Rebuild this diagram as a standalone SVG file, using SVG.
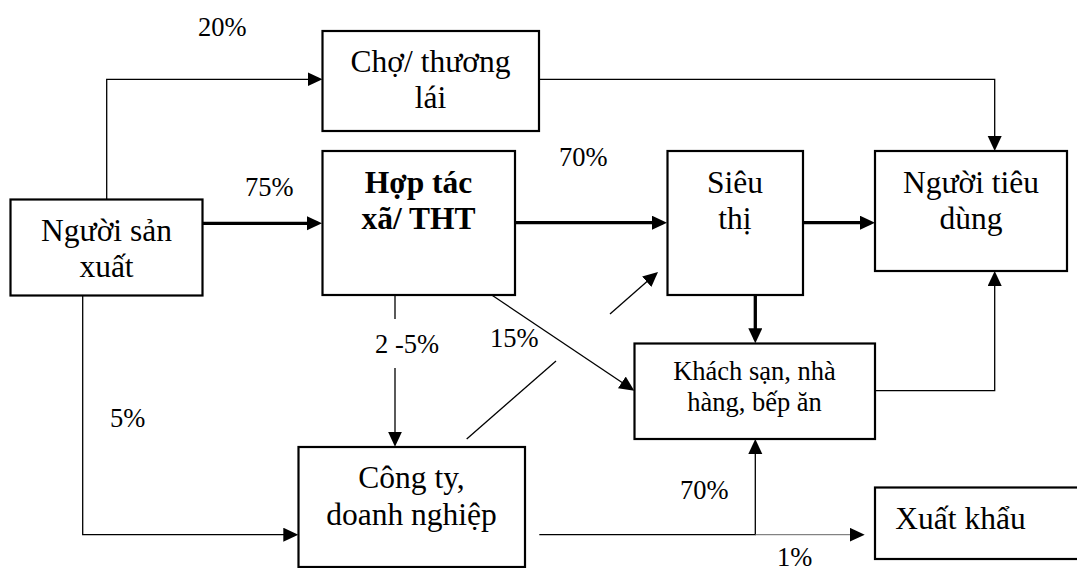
<svg xmlns="http://www.w3.org/2000/svg" width="1077" height="568" viewBox="0 0 1077 568">
  <style>
    .box { fill: #fff; stroke: #000; stroke-width: 2.2; }
    text { font-family: "Liberation Serif", "Times New Roman", serif; fill: #000; }
    .node { font-size: 31.5px; text-anchor: middle; }
    .node-b { font-weight: 700; }
    .node-s { font-size: 26.5px; }
    .node-l { text-anchor: start; }
    .lbl { font-size: 26.5px; }
    .thin { fill: none; stroke: #000; stroke-width: 1.3; }
    .thick { fill: none; stroke: #000; stroke-width: 3.3; }
    .faint { fill: none; stroke: #666; stroke-width: 1; }
  </style>
  <defs>
    <marker id="ah" markerUnits="userSpaceOnUse" markerWidth="16" markerHeight="16" refX="11" refY="7" orient="auto">
      <path d="M0,0 L15,7 L0,14 Z" fill="#000"/>
    </marker>
  </defs>
  <rect width="1077" height="568" fill="#fff"/>

  <!-- connectors -->
  <g id="connectors">
    <path class="thin" d="M106.7,199.5 V79.3 H318.5" marker-end="url(#ah)"/>
    <path class="thick" d="M202.5,223.3 H318" marker-end="url(#ah)"/>
    <path class="thin" d="M539,79.3 H994.7 V147" marker-end="url(#ah)"/>
    <path class="thick" d="M515,222.7 H663" marker-end="url(#ah)"/>
    <path class="thick" d="M803,222.7 H871" marker-end="url(#ah)"/>
    <path class="thick" d="M755.3,295 V339.3" marker-end="url(#ah)"/>
    <path class="thin" d="M875,390.7 H994.7 V275" marker-end="url(#ah)"/>
    <path class="thin" d="M395,295 V319"/>
    <path class="thin" d="M395,368 V442.7" marker-end="url(#ah)"/>
    <path class="thin" d="M491.7,295 L631,388.5" marker-end="url(#ah)"/>
    <path class="thin" d="M82.7,295 V534.7 H294.3" marker-end="url(#ah)"/>
    <path class="thin" d="M466.7,439 L556,361"/>
    <path class="thin" d="M610,314 L655,274.6" marker-end="url(#ah)"/>
    <path class="thin" d="M539.3,534.7 H755.3 V443" marker-end="url(#ah)"/>
    <path class="faint" d="M755.3,534.7 H860.7" marker-end="url(#ah)"/>
  </g>

  <!-- flow shares -->
  <g id="labels">
    <text class="lbl" x="198" y="36">20%</text>
    <text class="lbl" x="245" y="196">75%</text>
    <text class="lbl" x="559" y="165.7">70%</text>
    <text class="lbl" x="375" y="353.3">2 -5%</text>
    <text class="lbl" x="490" y="347.3">15%</text>
    <text class="lbl" x="110" y="426.7">5%</text>
    <text class="lbl" x="680" y="499">70%</text>
    <text class="lbl" x="777" y="566">1%</text>
  </g>

  <g id="producer">
    <rect class="box" x="10.5" y="199.5" width="192" height="96"/>
    <text class="node" x="106.5" y="240.7">Người sản</text>
    <text class="node" x="106.5" y="276.7">xuất</text>
  </g>
  <g id="market">
    <rect class="box" x="322.5" y="31" width="216.5" height="100"/>
    <text class="node" x="430.5" y="71.7">Chợ/ thương</text>
    <text class="node" x="430.5" y="108.3">lái</text>
  </g>
  <g id="coop">
    <rect class="box" x="322.5" y="151" width="192.5" height="144"/>
    <text class="node node-b" x="418.5" y="192.7">Hợp tác</text>
    <text class="node node-b" x="418.5" y="229">xã/ THT</text>
  </g>
  <g id="supermarket">
    <rect class="box" x="667.5" y="151" width="135.5" height="144"/>
    <text class="node" x="735" y="192.7">Siêu</text>
    <text class="node" x="735" y="229">thị</text>
  </g>
  <g id="consumer">
    <rect class="box" x="875" y="151" width="192" height="120"/>
    <text class="node" x="971" y="192.7">Người tiêu</text>
    <text class="node" x="971" y="229">dùng</text>
  </g>
  <g id="hospitality">
    <rect class="box" x="634.5" y="343.5" width="240.5" height="95.5"/>
    <text class="node node-s" x="754.5" y="379.5">Khách sạn, nhà</text>
    <text class="node node-s" x="754.5" y="410.7">hàng, bếp ăn</text>
  </g>
  <g id="company">
    <rect class="box" x="298.5" y="447" width="226.5" height="120"/>
    <text class="node" x="411.5" y="488">Công ty,</text>
    <text class="node" x="411.5" y="524.5">doanh nghiệp</text>
  </g>
  <g id="export">
    <rect class="box" x="875" y="487.5" width="220" height="71.5"/>
    <text class="node node-l" x="895.3" y="529">Xuất khẩu</text>
  </g>
</svg>
